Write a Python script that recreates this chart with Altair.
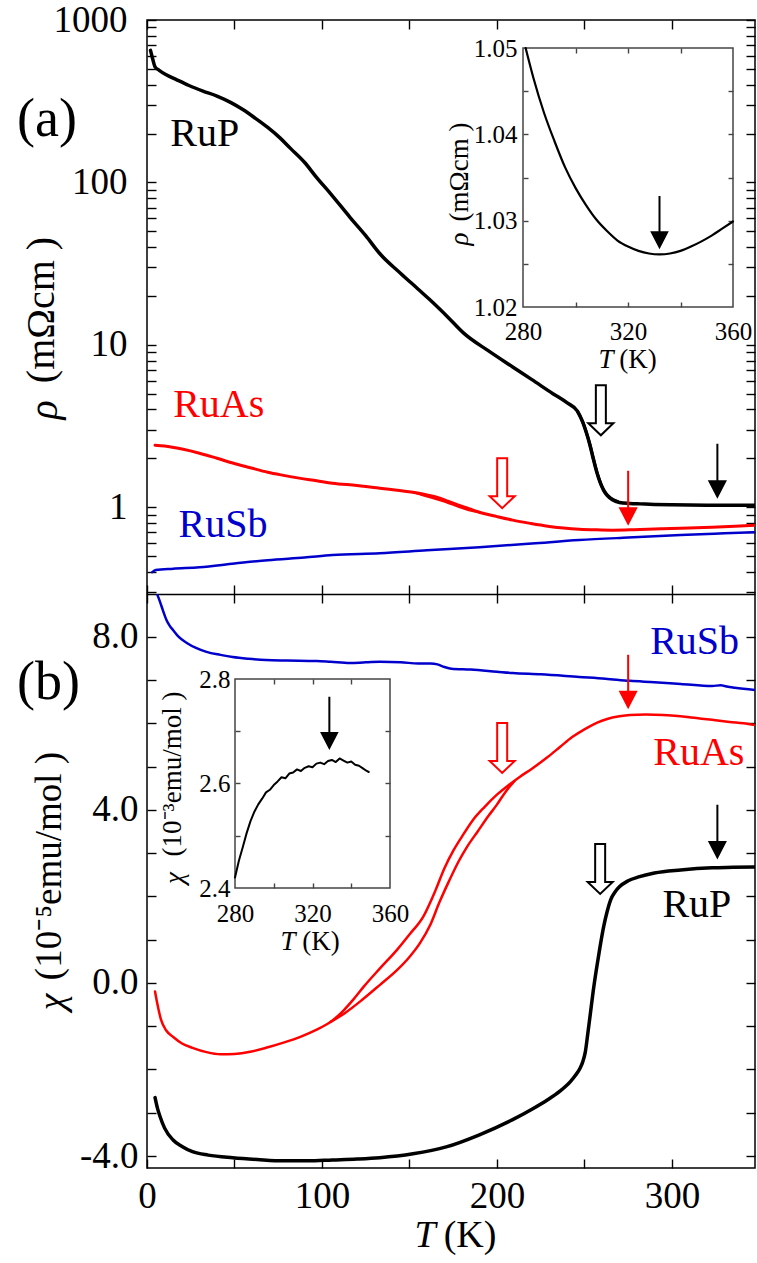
import altair as alt
import pandas as pd

FONT = "Liberation Serif"
RED = "#ff0000"
BLUE = "#0000cc"
BLACK = "#000000"
FRAME = "#444444"

# one view holding both panels: (a) on top, (b) below
W = 608
HP = 574          # height of one panel
HT = 2 * HP       # height of the whole view

# ---------------- shared temperature axis ----------------
T_DOMAIN = [0, 347.5]
T_TICKS = [0, 50, 100, 150, 200, 250, 300]
T_LABELS = [0, 100, 200, 300]

# ---------------- panel (a): resistivity (mOhm cm) ----------------
RHO_DOMAIN = [0.292, 1000]
RHO_LABELS = [1, 10, 100, 1000]
RHO_TICKS = [0.3, 0.4, 0.5, 0.6, 0.7, 0.8, 0.9, 1, 2, 3, 4, 5, 6, 7, 8, 9,
             10, 20, 30, 40, 50, 60, 70, 80, 90, 100, 200, 300, 400, 500, 600,
             700, 800, 900, 1000]

rup_rho_T = [2, 3, 4.6, 7, 11, 17, 24, 32, 40, 48, 55, 62, 69, 76, 82, 90, 97,
             105, 116, 125, 133, 145, 155, 162, 172, 181, 195, 209, 220, 232,
             240, 246, 249, 251, 253, 255, 257, 259, 261, 263, 266, 270, 276,
             282, 290, 300, 310, 320, 330, 340, 347.5]
rup_rho = [650, 590, 515, 490, 460, 428, 395, 365, 340, 310, 280, 248, 218,
           188, 162, 133, 107, 85, 61, 47, 36.5, 27.5, 22, 18.8, 14.8, 11.8,
           9.2, 7.3, 6.1, 5.0, 4.4, 3.9, 3.35, 2.9, 2.45, 2.0, 1.65, 1.42,
           1.27, 1.18, 1.11, 1.07, 1.055, 1.048, 1.04, 1.034, 1.03, 1.027,
           1.026, 1.027, 1.029]
rup_rho_hyst_T = [246, 249.5, 251.5, 253.5, 255.5, 257.5, 259.5, 262, 265, 269]
rup_rho_hyst = [3.9, 3.25, 2.8, 2.35, 1.92, 1.6, 1.38, 1.23, 1.14, 1.085]

ruas_rho_T = [4.6, 10, 20, 30, 40, 49, 59, 69, 78, 87, 97, 106, 120, 133, 143,
              152, 160, 166, 172, 178, 184, 190, 200, 209, 219, 229, 238, 247,
              257, 266, 276, 286, 295, 305, 314, 323, 336, 347.5]
ruas_rho = [2.41, 2.38, 2.28, 2.15, 2.0, 1.87, 1.75, 1.64, 1.57, 1.51, 1.455,
            1.405, 1.36, 1.31, 1.27, 1.237, 1.19, 1.15, 1.09, 1.03, 0.98, 0.93,
            0.875, 0.832, 0.795, 0.764, 0.745, 0.732, 0.725, 0.722, 0.725,
            0.732, 0.737, 0.742, 0.748, 0.753, 0.763, 0.775]
ruas_rho_hyst_T = [152, 160, 166, 172, 178, 184, 190]
ruas_rho_hyst = [1.237, 1.165, 1.12, 1.065, 1.01, 0.96, 0.93]

rusb_rho_T = [3, 5, 15, 30, 50, 69, 90, 106, 133, 160, 190, 220, 247, 275, 305, 330, 347.5]
rusb_rho = [0.398, 0.41, 0.418, 0.427, 0.45, 0.472, 0.49, 0.507, 0.521, 0.543,
            0.567, 0.597, 0.627, 0.65, 0.673, 0.69, 0.702]

# ---------------- panel (b): susceptibility (1e-5 emu/mol) ----------------
CHI_DOMAIN = [-4.277, 8.987]
CHI_LABELS = [-4, 0, 4, 8]
CHI_TICKS = [-4, -3, -2, -1, 0, 1, 2, 3, 4, 5, 6, 7, 8]

rusb_chi_T = [6, 7.5, 9, 11, 13, 15, 18, 23, 28, 34, 42, 49, 58, 68, 80, 97,
              105, 116, 125, 133, 145, 155, 162, 166, 170, 174, 185, 200, 209,
              225, 247, 262, 276, 290, 305, 323, 328, 330, 336, 347.5]
rusb_chi = [8.96, 8.8, 8.62, 8.4, 8.25, 8.15, 8.0, 7.85, 7.74, 7.65, 7.58, 7.53,
            7.49, 7.46, 7.45, 7.44, 7.42, 7.39, 7.41, 7.42, 7.41, 7.38, 7.38,
            7.36, 7.30, 7.26, 7.24, 7.19, 7.16, 7.13, 7.07, 7.03, 6.98, 6.95,
            6.91, 6.86, 6.88, 6.86, 6.82, 6.77]

ruas_chi_T = [4.6, 6, 8, 11, 15, 20, 26, 34, 42, 50, 59, 68, 78, 88, 97, 105,
              112, 118, 124, 133, 143, 150, 158, 165, 170, 175, 180, 186, 193,
              200, 207, 213, 220, 229, 236, 243, 250, 257, 263, 270, 276, 285,
              295, 305, 314, 323, 333, 341, 347.5]
ruas_chi = [-0.2, -0.5, -0.85, -1.1, -1.25, -1.4, -1.5, -1.6, -1.65, -1.64,
            -1.59, -1.5, -1.38, -1.24, -1.08, -0.9, -0.65, -0.38, -0.08, 0.33,
            0.77, 1.12, 1.54, 2.15, 2.65, 3.05, 3.38, 3.75, 4.07, 4.35, 4.58,
            4.76, 4.95, 5.22, 5.45, 5.68, 5.86, 6.01, 6.10, 6.16, 6.19, 6.2,
            6.19, 6.16, 6.12, 6.08, 6.03, 6.0, 5.96]
ruas_chi_hyst_T = [105, 113, 123, 133, 143, 150, 156, 162, 167, 172, 178, 183,
                   189, 195, 200, 205, 210]
ruas_chi_hyst = [-0.9, -0.7, -0.39, -0.05, 0.30, 0.6, 0.92, 1.35, 1.85, 2.3,
                 2.8, 3.15, 3.5, 3.85, 4.12, 4.42, 4.66]

rup_chi_T = [4.6, 6, 7.4, 10, 14.9, 20, 26, 35, 49, 63, 78, 92, 106, 120, 133,
             152, 171, 190, 209, 220, 229, 236, 242, 245, 247.5, 249, 250.5,
             252, 253.5, 255, 257, 259, 261, 263, 265, 267.5, 270, 275, 281,
             290, 305, 323, 335, 347.5]
rup_chi = [-2.65, -2.9, -3.08, -3.35, -3.63, -3.78, -3.9, -3.98, -4.04, -4.08,
           -4.11, -4.11, -4.09, -4.07, -4.04, -3.95, -3.79, -3.51, -3.16,
           -2.92, -2.70, -2.50, -2.28, -2.13, -1.97, -1.83, -1.6, -1.15, -0.68,
           -0.2, 0.35, 0.85, 1.3, 1.65, 1.92, 2.1, 2.22, 2.36, 2.45, 2.54,
           2.61, 2.66, 2.67, 2.68]

# ---------------- insets ----------------
INSET_A_T = [280, 360]
INSET_A_RHO = [1.02, 1.05]
inset_a_T = [281, 284, 288, 292, 296, 300, 304, 308, 312, 316, 320, 324, 328,
             332, 336, 340, 344, 348, 352, 356, 360]
inset_a_rho = [1.0500, 1.0465, 1.0425, 1.0392, 1.0362, 1.0338, 1.0318, 1.0301,
               1.0288, 1.0277, 1.0270, 1.0265, 1.0262, 1.0261, 1.0262, 1.0265,
               1.0270, 1.0276, 1.0283, 1.0291, 1.0299]

INSET_B_T = [280, 360]
INSET_B_CHI = [2.4, 2.8]
inset_b_T = [280, 282, 284, 286, 288, 290, 292, 294, 296, 298, 300, 302, 304,
             306, 308, 310, 312, 314, 316, 318, 320, 322, 324, 326, 328, 330,
             332, 334, 336, 338, 340, 342, 344, 346, 348, 349]
inset_b_chi = [2.420, 2.452, 2.478, 2.505, 2.528, 2.546, 2.560, 2.571, 2.583,
               2.588, 2.597, 2.604, 2.612, 2.610, 2.619, 2.621, 2.627, 2.624,
               2.630, 2.633, 2.631, 2.638, 2.640, 2.637, 2.643, 2.645, 2.641,
               2.648, 2.644, 2.640, 2.642, 2.636, 2.634, 2.629, 2.624, 2.622]

# ---------------- arrows (T, value, colour) ----------------
arr_a_open_T = [259.4, 203]
arr_a_open_v = [3.95, 1.406]
arr_a_open_c = [BLACK, RED]
arr_a_thin_T = [326, 275]
arr_a_thin_v = [1.69, 1.152]
arr_a_thin_c = [BLACK, RED]
arr_b_open_T = [259, 203]
arr_b_open_v = [2.635, 5.43]
arr_b_open_c = [BLACK, RED]
arr_b_thin_T = [326, 275]
arr_b_thin_v = [3.51, 6.98]
arr_b_thin_c = [BLACK, RED]
arr_ia_T = [332]
arr_ia_v = [1.0299]
arr_ib_T = [328.7]
arr_ib_v = [2.717]

# ---------------- series labels ----------------
lab_a_T = [33, 41, 43.4]
lab_a_v = [200, 4.24, 0.775]
lab_a_s = ["RuP", "RuAs", "RuSb"]
lab_a_c = [BLACK, RED, BLUE]
lab_b_T = [313, 315.4, 314.3]
lab_b_v = [7.88, 5.31, 1.80]
lab_b_s = ["RuSb", "RuAs", "RuP"]
lab_b_c = [BLUE, RED, BLACK]

OPEN_ARROW = "M-0.2,-1L0.2,-1L0.2,0.52L0.5,0.52L0,1L-0.5,0.52L-0.2,0.52Z"
THIN_ARROW = "M0,-1L0,0.5M-0.3,0.42L0,1L0.3,0.42Z"

LABEL_SIZE = 37
SERIES_SIZE = 40


def ax_labels(orient, values, pad, size=LABEL_SIZE, offset=0, fmt=None, expr=None):
    kw = dict(orient=orient, values=values, ticks=False, tickSize=0,
              domain=False, grid=False, labelFont=FONT, labelFontSize=size,
              labelColor="black", labelPadding=pad, labelFlush=False,
              labelOverlap=False, title=None, offset=offset)
    if fmt:
        kw["format"] = fmt
    if expr:
        kw["labelExpr"] = expr
    return alt.Axis(**kw)


def ax_ticks(orient, offset, values, size=9, color="black", width=1.4,
             domain=False):
    kw = dict(orient=orient, offset=offset, values=values, labels=False,
              ticks=True, tickSize=size, tickColor=color, tickWidth=width,
              domain=domain, grid=False, title=None)
    if domain:
        kw["domainColor"] = "black"
        kw["domainWidth"] = 1.5
    return alt.Axis(**kw)


def line(T, v, color, sw, xs, ys, xax=None, yax=None, interp="monotone"):
    df = pd.DataFrame({"T": T, "v": v})
    return alt.Chart(df).mark_line(
        color=color, strokeWidth=sw, clip=True, strokeJoin="round",
        strokeCap="round", interpolate=interp).encode(
        x=alt.X("T:Q", scale=xs, axis=xax),
        y=alt.Y("v:Q", scale=ys, axis=yax),
    )


def arrows(T, v, colors, hollow, size, xs, ys, xax=None, yax=None):
    df = pd.DataFrame({"T": T, "v": v, "c": colors})
    if hollow:
        m = alt.Chart(df).mark_point(shape=OPEN_ARROW, size=size, filled=True,
                                     fill="white", strokeWidth=2, opacity=1)
        enc = dict(stroke=alt.Stroke("c:N", scale=None))
    else:
        m = alt.Chart(df).mark_point(shape=THIN_ARROW, size=size, filled=True,
                                     strokeWidth=2, opacity=1)
        enc = dict(stroke=alt.Stroke("c:N", scale=None),
                   fill=alt.Fill("c:N", scale=None))
    return m.encode(x=alt.X("T:Q", scale=xs, axis=xax),
                    y=alt.Y("v:Q", scale=ys, axis=yax), **enc)


def data_text(T, v, s, c, xs, ys, size=SERIES_SIZE):
    df = pd.DataFrame({"T": T, "v": v, "s": s, "c": c})
    return alt.Chart(df).mark_text(font=FONT, fontSize=size, align="center",
                                   baseline="middle").encode(
        x=alt.X("T:Q", scale=xs, axis=None),
        y=alt.Y("v:Q", scale=ys, axis=None),
        text="s:N", color=alt.Color("c:N", scale=None))


def px_text(s, x, y, size, italic=False, angle=0, align="center",
            baseline="alphabetic"):
    df = pd.DataFrame({"s": [s]})
    kw = dict(font=FONT, fontSize=size, color="black", align=align,
              baseline=baseline, angle=angle)
    if italic:
        kw["fontStyle"] = "italic"
    return alt.Chart(df).mark_text(**kw).encode(
        x=alt.value(x), y=alt.value(y), text="s:N")


def frame(xdom, ydom, xs, ys, xax, yax):
    df = pd.DataFrame({"x1": [xdom[0]], "x2": [xdom[1]],
                       "y1": [ydom[0]], "y2": [ydom[1]]})
    return alt.Chart(df).mark_rect(filled=False, stroke=FRAME,
                                   strokeWidth=1.5).encode(
        x=alt.X("x1:Q", scale=xs, axis=xax), x2="x2:Q",
        y=alt.Y("y1:Q", scale=ys, axis=yax), y2="y2:Q")


# ---------------- scales ----------------
xs = alt.Scale(domain=T_DOMAIN, range=[0, W], nice=False, zero=False)
ya = alt.Scale(type="log", domain=RHO_DOMAIN, range=[HP, 0], nice=False)
yb = alt.Scale(domain=CHI_DOMAIN, range=[HT, HP], nice=False, zero=False)

IA_TOP, IA_BOT, IA_L, IA_R = 28, 287, 376, 586
IB_TOP, IB_BOT, IB_L, IB_R = HP + 85, HP + 294, 88, 243
xia = alt.Scale(domain=INSET_A_T, range=[IA_L, IA_R], nice=False, zero=False)
yia = alt.Scale(domain=INSET_A_RHO, range=[IA_BOT, IA_TOP], nice=False, zero=False)
xib = alt.Scale(domain=INSET_B_T, range=[IB_L, IB_R], nice=False, zero=False)
yib = alt.Scale(domain=INSET_B_CHI, range=[IB_BOT, IB_TOP], nice=False, zero=False)
HYPHEN = "replace(format(datum.value, '.1f'), '\u2212', '-')"
IA_YT = [1.025, 1.03, 1.035, 1.04, 1.045]
IB_YT = [2.5, 2.6, 2.7]
I_XT = [300, 320, 340]

layers = [
    # ----- panel (a) -----
    line(rup_rho_T, rup_rho, BLACK, 3.5, xs, ya,
         xax=ax_ticks("top", -HP, T_TICKS, domain=True),
         yax=ax_labels("left", RHO_LABELS, pad=20, fmt="d")),
    line(ruas_rho_T, ruas_rho, RED, 3, xs, ya,
         xax=ax_ticks("bottom", -HT, T_TICKS),
         yax=ax_ticks("right", -W, RHO_TICKS)),
    line(rusb_rho_T, rusb_rho, BLUE, 2.5, xs, ya,
         yax=ax_ticks("left", -W, RHO_TICKS)),
    line(rup_rho_hyst_T, rup_rho_hyst, BLACK, 3, xs, ya),
    line(ruas_rho_hyst_T, ruas_rho_hyst, RED, 2.5, xs, ya),
    arrows(arr_a_open_T, arr_a_open_v, arr_a_open_c, True, 2500, xs, ya),
    arrows(arr_a_thin_T, arr_a_thin_v, arr_a_thin_c, False, 2800, xs, ya),
    data_text(lab_a_T, lab_a_v, lab_a_s, lab_a_c, xs, ya),
    # ----- inset (a) -----
    frame(INSET_A_T, INSET_A_RHO, xia, yia,
          ax_ticks("bottom", IA_TOP - HT, I_XT, size=5, color=FRAME),
          ax_ticks("left", -IA_R, IA_YT, size=5, color=FRAME)),
    line(inset_a_T, inset_a_rho, BLACK, 2.2, xia, yia,
         xax=ax_labels("bottom", [280, 320, 360], pad=12, size=25, offset=IA_BOT - HT, fmt="d"),
         yax=ax_labels("left", [1.02, 1.03, 1.04, 1.05], pad=6, size=25, offset=-IA_L, fmt=".2f")),
    arrows(arr_ia_T, arr_ia_v, [BLACK], False, 2600, xia, yia,
           xax=ax_ticks("top", -IA_BOT, I_XT, size=5, color=FRAME),
           yax=ax_ticks("right", IA_L - W, IA_YT, size=5, color=FRAME)),
    # ----- panel (b) -----
    line(rup_chi_T, rup_chi, BLACK, 3.5, xs, yb,
         xax=ax_labels("bottom", T_LABELS, pad=10, fmt="d"),
         yax=ax_labels("left", CHI_LABELS, pad=9, expr=HYPHEN)),
    line(ruas_chi_T, ruas_chi, RED, 2.5, xs, yb,
         xax=ax_ticks("top", -HT, T_TICKS),
         yax=ax_ticks("right", -W, CHI_TICKS)),
    line(rusb_chi_T, rusb_chi, BLUE, 2.5, xs, yb,
         xax=ax_ticks("bottom", -HP, T_TICKS),
         yax=ax_ticks("left", -W, CHI_TICKS)),
    line(ruas_chi_hyst_T, ruas_chi_hyst, RED, 2.5, xs, yb),
    arrows(arr_b_open_T, arr_b_open_v, arr_b_open_c, True, 2500, xs, yb),
    arrows(arr_b_thin_T, arr_b_thin_v, arr_b_thin_c, False, 2750, xs, yb),
    data_text(lab_b_T, lab_b_v, lab_b_s, lab_b_c, xs, yb),
    # ----- inset (b) -----
    frame(INSET_B_T, INSET_B_CHI, xib, yib,
          ax_ticks("bottom", IB_TOP - HT, I_XT, size=5, color=FRAME),
          ax_ticks("left", -IB_R, IB_YT, size=5, color=FRAME)),
    line(inset_b_T, inset_b_chi, BLACK, 2, xib, yib, interp="linear",
         xax=ax_labels("bottom", [280, 320, 360], pad=13, size=25, offset=IB_BOT - HT, fmt="d"),
         yax=ax_labels("left", [2.4, 2.6, 2.8], pad=5, size=25, offset=-IB_L, fmt=".1f")),
    arrows(arr_ib_T, arr_ib_v, [BLACK], False, 2600, xib, yib,
           xax=ax_ticks("top", -IB_BOT, I_XT, size=5, color=FRAME),
           yax=ax_ticks("right", IB_L - W, IB_YT, size=5, color=FRAME)),
    # ----- titles and panel letters -----
    px_text("(a)", -130, 116, 54, align="left"),
    px_text("(mΩcm )", -105, 290, 40, angle=270, baseline="middle"),
    px_text("ρ", -102, 390, 40, italic=True, angle=270, baseline="middle"),
    px_text("(mΩcm )", 313, 152, 27, angle=270, baseline="middle"),
    px_text("ρ", 313, 219, 27, italic=True, angle=270, baseline="middle"),
    px_text("T", 459, 348, 27, italic=True),
    px_text("(K)", 491, 348, 27),
    px_text("(b)", -130, HP + 105, 54, align="left"),
    px_text("(10⁻⁵emu/mol )", -97, HP + 272, 37, angle=270, baseline="middle"),
    px_text("χ", -94, HP + 408, 38, italic=True, angle=270, baseline="middle"),
    px_text("T", 278, HP + 653, 38, italic=True),
    px_text("(K)", 323, HP + 653, 38),
    px_text("(10⁻³emu/mol )", 26, HP + 180, 27, angle=270, baseline="middle"),
    px_text("χ", 28, HP + 284, 27, italic=True, angle=270, baseline="middle"),
    px_text("T", 141, HP + 356, 27, italic=True),
    px_text("(K)", 174, HP + 356, 27),
]

chart = alt.layer(*layers).resolve_scale(
    x="independent", y="independent"
).resolve_axis(
    x="independent", y="independent"
).properties(
    width=W, height=HT,
    padding={"left": 17, "top": 1, "right": 0, "bottom": 5},
    background="white",
).configure_view(stroke="black", strokeWidth=1.5)

chart.save("out.html", embed_options={"renderer": "svg", "actions": False})
